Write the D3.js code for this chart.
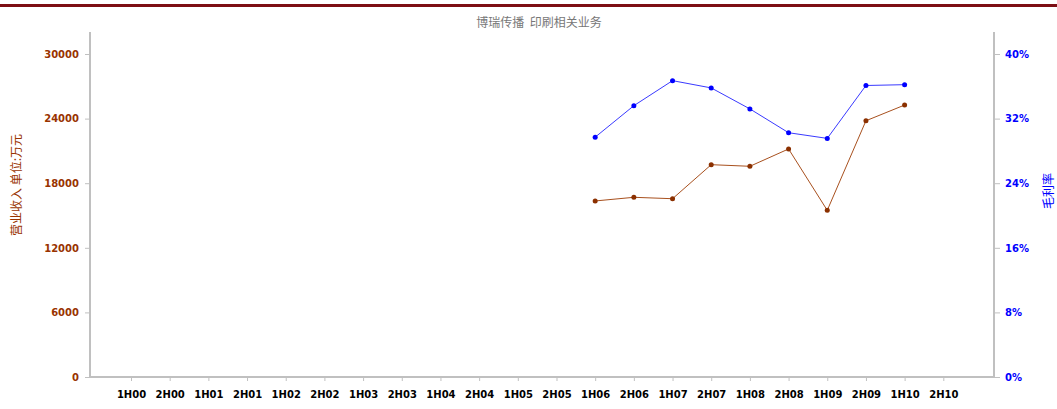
<!DOCTYPE html>
<html>
<head>
<meta charset="utf-8">
<script src="https://cdn.jsdelivr.net/npm/d3@7"></script>
<style>
  body { margin: 0; background: #fff; }
  #chart { width: 1057px; height: 409px; }
  .tick text { font-family: "DejaVu Sans", Verdana, sans-serif; font-weight: bold; font-size: 10px; }
</style>
</head>
<body>
<div id="chart"></div>
<script>
// Half-year periods
const periods = ["1H00","2H00","1H01","2H01","1H02","2H02","1H03","2H03","1H04","2H04","1H05","2H05",
                 "1H06","2H06","1H07","2H07","1H08","2H08","1H09","2H09","1H10","2H10"];
// Revenue (万元), only from 1H06
const revenuePeriods = ["1H06","2H06","1H07","2H07","1H08","2H08","1H09","2H09","1H10"];
const revenue = [16350, 16690, 16560, 19720, 19570, 21180, 15480, 23800, 25260];
// Gross margin (%)
const margin = [29.7, 33.6, 36.7, 35.8, 33.2, 30.25, 29.55, 36.1, 36.2];
const leftTicks = [0, 6000, 12000, 18000, 24000, 30000];
const rightTicks = [0, 8, 16, 24, 32, 40];

const W = 1057, H = 409;
const brown = "#993300", blue = "#0000ff", axisGrey = "#c0c0c0";

const svg = d3.select("#chart").append("svg")
    .attr("width", W)
    .attr("height", H);

// dark red strip on top
svg.append("rect")
    .attr("x", 0).attr("y", 4)
    .attr("width", W).attr("height", 3)
    .attr("fill", "#7d0e14");

// Title
svg.append("text")
    .attr("x", 539).attr("y", 27)
    .attr("text-anchor", "middle")
    .style("white-space", "pre")
    .style("font-family", "'Noto Sans CJK SC', sans-serif")
    .style("font-size", "12px")
    .style("fill", "#777")
    .text("博瑞传播  印刷相关业务");

const plot = { left: 90, right: 994, top: 32, bottom: 377 };

const x = d3.scalePoint()
    .domain(periods)
    .range([131, 943.3]);

const yL = d3.scaleLinear().domain([0, 30000]).range([plot.bottom, 54]);
const yR = d3.scaleLinear().domain([0, 40]).range([plot.bottom, 54]);

// X axis
const gx = svg.append("g")
    .attr("transform", `translate(0,${plot.bottom})`)
    .call(d3.axisBottom(x).tickSize(4).tickSizeOuter(0).tickPadding(10));
gx.select(".domain").remove();
gx.selectAll(".tick line").attr("stroke", axisGrey);
gx.selectAll(".tick text").attr("fill", "#000");

// Left axis
const gl = svg.append("g")
    .attr("transform", `translate(${plot.left},0)`)
    .call(d3.axisLeft(yL).tickValues(leftTicks).tickSize(5).tickPadding(6).tickFormat(d3.format("d")));
gl.select(".domain").remove();
gl.selectAll(".tick line").attr("stroke", axisGrey);
gl.selectAll(".tick text").attr("fill", brown);

// Right axis
const gr = svg.append("g")
    .attr("transform", `translate(${plot.right},0)`)
    .call(d3.axisRight(yR).tickValues(rightTicks).tickSize(6).tickPadding(5).tickFormat(d => d + "%"));
gr.select(".domain").remove();
gr.selectAll(".tick line").attr("stroke", axisGrey);
gr.selectAll(".tick text").attr("fill", blue);

// Axis frame lines
svg.append("path")
    .attr("d", `M${plot.left},${plot.top}V${plot.bottom}H${plot.right}V${plot.top}`)
    .attr("fill", "none")
    .attr("stroke", axisGrey)
    .attr("stroke-width", 2);

// Axis titles
svg.append("text")
    .attr("transform", `translate(21,185) rotate(-90)`)
    .attr("text-anchor", "middle")
    .style("font-family", "'Noto Sans CJK SC', sans-serif")
    .style("font-size", "12px")
    .style("fill", brown)
    .text("营业收入 单位:万元");

svg.append("text")
    .attr("transform", `translate(1053,191) rotate(-90)`)
    .attr("text-anchor", "middle")
    .style("font-family", "'Noto Sans CJK SC', sans-serif")
    .style("font-size", "12px")
    .style("fill", blue)
    .text("毛利率");

// Series
const revData = revenuePeriods.map((p, i) => ({ p, v: revenue[i] }));
const marData = revenuePeriods.map((p, i) => ({ p, v: margin[i] }));

svg.append("path")
    .datum(revData)
    .attr("fill", "none")
    .attr("stroke", "#a8501e")
    .attr("stroke-width", 1)
    .attr("d", d3.line().x(d => x(d.p)).y(d => yL(d.v)));

svg.selectAll(".rev-dot")
    .data(revData)
    .enter()
    .append("circle")
    .attr("class", "rev-dot")
    .attr("cx", d => x(d.p))
    .attr("cy", d => yL(d.v))
    .attr("r", 2.5)
    .attr("fill", "#8b3000");

svg.append("path")
    .datum(marData)
    .attr("fill", "none")
    .attr("stroke", "#3a3aff")
    .attr("stroke-width", 1)
    .attr("d", d3.line().x(d => x(d.p)).y(d => yR(d.v)));

svg.selectAll(".mar-dot")
    .data(marData)
    .enter()
    .append("circle")
    .attr("class", "mar-dot")
    .attr("cx", d => x(d.p))
    .attr("cy", d => yR(d.v))
    .attr("r", 2.5)
    .attr("fill", blue);
</script>
</body>
</html>
